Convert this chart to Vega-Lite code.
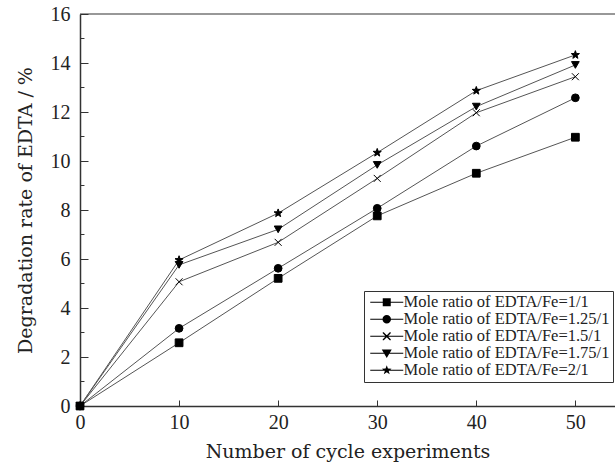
{
  "$schema": "https://vega.github.io/schema/vega-lite/v6.json",
  "width": 535,
  "height": 392,
  "autosize": "none",
  "padding": {"left": 80, "top": 14, "right": 0, "bottom": 57},
  "background": "white",
  "config": {
    "view": {"stroke": null},
    "font": "Liberation Serif",
    "axis": {"labelFont": "Liberation Serif", "titleFont": "DejaVu Serif", "labelColor": "#222", "titleColor": "#222", "titleFontWeight": "normal", "domainColor": "#333", "tickColor": "#333", "grid": false}
  },
  "datasets": {
    "main": [
      {"x": 0, "y": 0, "series": "Mole ratio of EDTA/Fe=1/1"},
      {"x": 10, "y": 2.58, "series": "Mole ratio of EDTA/Fe=1/1"},
      {"x": 20, "y": 5.21, "series": "Mole ratio of EDTA/Fe=1/1"},
      {"x": 30, "y": 7.76, "series": "Mole ratio of EDTA/Fe=1/1"},
      {"x": 40, "y": 9.5, "series": "Mole ratio of EDTA/Fe=1/1"},
      {"x": 50, "y": 10.97, "series": "Mole ratio of EDTA/Fe=1/1"},
      {"x": 0, "y": 0, "series": "Mole ratio of EDTA/Fe=1.25/1"},
      {"x": 10, "y": 3.17, "series": "Mole ratio of EDTA/Fe=1.25/1"},
      {"x": 20, "y": 5.62, "series": "Mole ratio of EDTA/Fe=1.25/1"},
      {"x": 30, "y": 8.07, "series": "Mole ratio of EDTA/Fe=1.25/1"},
      {"x": 40, "y": 10.61, "series": "Mole ratio of EDTA/Fe=1.25/1"},
      {"x": 50, "y": 12.58, "series": "Mole ratio of EDTA/Fe=1.25/1"},
      {"x": 0, "y": 0, "series": "Mole ratio of EDTA/Fe=1.5/1"},
      {"x": 10, "y": 5.07, "series": "Mole ratio of EDTA/Fe=1.5/1"},
      {"x": 20, "y": 6.68, "series": "Mole ratio of EDTA/Fe=1.5/1"},
      {"x": 30, "y": 9.29, "series": "Mole ratio of EDTA/Fe=1.5/1"},
      {"x": 40, "y": 11.97, "series": "Mole ratio of EDTA/Fe=1.5/1"},
      {"x": 50, "y": 13.44, "series": "Mole ratio of EDTA/Fe=1.5/1"},
      {"x": 0, "y": 0, "series": "Mole ratio of EDTA/Fe=1.75/1"},
      {"x": 10, "y": 5.76, "series": "Mole ratio of EDTA/Fe=1.75/1"},
      {"x": 20, "y": 7.21, "series": "Mole ratio of EDTA/Fe=1.75/1"},
      {"x": 30, "y": 9.84, "series": "Mole ratio of EDTA/Fe=1.75/1"},
      {"x": 40, "y": 12.22, "series": "Mole ratio of EDTA/Fe=1.75/1"},
      {"x": 50, "y": 13.92, "series": "Mole ratio of EDTA/Fe=1.75/1"},
      {"x": 0, "y": 0, "series": "Mole ratio of EDTA/Fe=2/1"},
      {"x": 10, "y": 5.96, "series": "Mole ratio of EDTA/Fe=2/1"},
      {"x": 20, "y": 7.87, "series": "Mole ratio of EDTA/Fe=2/1"},
      {"x": 30, "y": 10.34, "series": "Mole ratio of EDTA/Fe=2/1"},
      {"x": 40, "y": 12.87, "series": "Mole ratio of EDTA/Fe=2/1"},
      {"x": 50, "y": 14.33, "series": "Mole ratio of EDTA/Fe=2/1"}
    ],
    "minor": [{"v": 1}, {"v": 3}, {"v": 5}, {"v": 7}, {"v": 9}, {"v": 11}, {"v": 13}, {"v": 15}],
    "names": [
      {"name": "Mole ratio of EDTA/Fe=1/1"},
      {"name": "Mole ratio of EDTA/Fe=1.25/1"},
      {"name": "Mole ratio of EDTA/Fe=1.5/1"},
      {"name": "Mole ratio of EDTA/Fe=1.75/1"},
      {"name": "Mole ratio of EDTA/Fe=2/1"}
    ]
  },
  "layer": [
    {
      "data": {"name": "main"},
      "mark": {"type": "line", "color": "#555", "strokeWidth": 1},
      "encoding": {
        "x": {"field": "x", "type": "quantitative", "scale": {"domain": [0, 54], "nice": false, "zero": false},
          "axis": {"title": "Number of cycle experiments", "values": [0, 10, 20, 30, 40, 50], "labelFontSize": 20, "titleFontSize": 19, "tickSize": -6, "labelPadding": 12, "titlePadding": 10, "labelFlush": false, "domainWidth": 1.5}},
        "y": {"field": "y", "type": "quantitative", "scale": {"domain": [0, 16], "nice": false},
          "axis": {"title": "Degradation rate of EDTA / %", "values": [0, 2, 4, 6, 8, 10, 12, 14, 16], "labelFontSize": 20, "titleFontSize": 19, "tickSize": -8, "labelPadding": 18, "titlePadding": 15, "labelFlush": false, "domainWidth": 1.5}},
        "detail": {"field": "series"}
      }
    },
    {
      "data": {"name": "main"},
      "mark": {"type": "point", "filled": true, "fill": "black", "stroke": "black", "strokeWidth": 1, "opacity": 1, "size": 60},
      "encoding": {
        "x": {"field": "x", "type": "quantitative"},
        "y": {"field": "y", "type": "quantitative"},
        "shape": {"field": "series", "type": "nominal", "legend": null,
          "scale": {"domain": ["Mole ratio of EDTA/Fe=1/1", "Mole ratio of EDTA/Fe=1.25/1", "Mole ratio of EDTA/Fe=1.5/1", "Mole ratio of EDTA/Fe=1.75/1", "Mole ratio of EDTA/Fe=2/1"],
            "range": ["square", "circle", "M-0.9,-0.9L0.9,0.9M-0.9,0.9L0.9,-0.9", "triangle-down", "M0,-1.1L0.26,-0.36L1.05,-0.34L0.43,0.14L0.65,0.89L0,0.45L-0.65,0.89L-0.43,0.14L-1.05,-0.34L-0.26,-0.36Z"]}}
      }
    },
    {
      "data": {"name": "minor"},
      "mark": {"type": "rule", "color": "#333", "strokeWidth": 1},
      "encoding": {
        "x": {"datum": 0, "type": "quantitative"},
        "x2": {"datum": 0.45},
        "y": {"field": "v", "type": "quantitative"}
      }
    },
    {
      "data": {"name": "minor"},
      "transform": [{"filter": "datum.v == 15"}],
      "mark": {"type": "rule", "color": "#333", "strokeWidth": 1.2},
      "encoding": {
        "x": {"datum": 0, "type": "quantitative"},
        "x2": {"datum": 54},
        "y": {"datum": 16, "type": "quantitative"}
      }
    },
    {
      "data": {"name": "names"},
      "mark": {"type": "point", "filled": true, "fill": "black", "opacity": 0},
      "encoding": {
        "shape": {"field": "name", "type": "nominal",
          "scale": {"domain": ["Mole ratio of EDTA/Fe=1/1", "Mole ratio of EDTA/Fe=1.25/1", "Mole ratio of EDTA/Fe=1.5/1", "Mole ratio of EDTA/Fe=1.75/1", "Mole ratio of EDTA/Fe=2/1"],
            "range": [
              "M-1,-0.1H5.6V0.1H-1ZM1.5,-0.8H3.1V0.8H1.5Z",
              "M-1,-0.1H5.6V0.1H-1ZM3.15,0A0.85,0.85 0 1,1 1.45,0A0.85,0.85 0 1,1 3.15,0Z",
              "M-1,-0.1H5.6V0.1H-1ZM1.5,-0.8L1.7,-0.8L3.1,0.6L3.1,0.8L2.9,0.8L1.5,-0.6ZM3.1,-0.8L3.1,-0.6L1.7,0.8L1.5,0.8L1.5,0.6L2.9,-0.8Z",
              "M-1,-0.1H5.6V0.1H-1ZM1.3,-0.75H3.3L2.3,0.95Z",
              "M-1,-0.1H5.6V0.1H-1ZM2.3,-1L2.54,-0.33L3.26,-0.31L2.69,0.13L2.89,0.81L2.3,0.41L1.71,0.81L1.91,0.13L1.34,-0.31L2.06,-0.33Z"
            ]},
          "legend": {"title": null, "orient": "none", "legendX": 284, "legendY": 277, "padding": 3, "fillColor": "white", "strokeColor": "#333", "symbolSize": 100, "symbolOpacity": 1, "symbolFillColor": "black", "labelFont": "Liberation Serif", "labelFontSize": 16.5, "labelColor": "#222", "labelOffset": 20, "rowPadding": -8, "labelLimit": 300}
        }
      }
    }
  ],
  "resolve": {"scale": {"shape": "independent"}}
}
